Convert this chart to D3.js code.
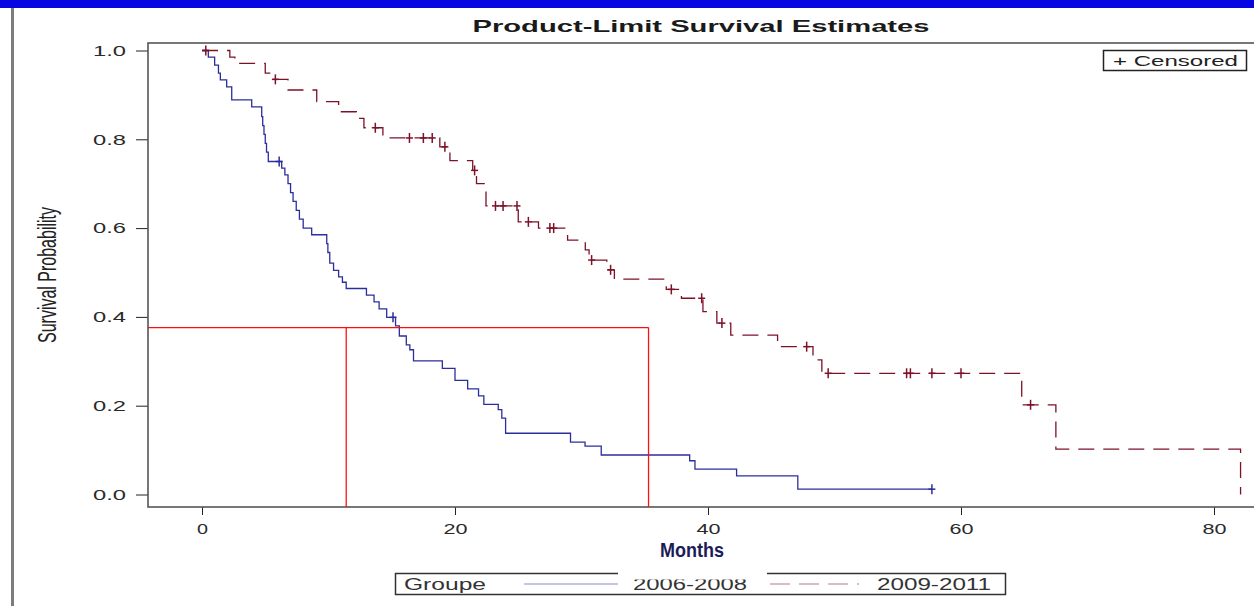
<!DOCTYPE html>
<html>
<head>
<meta charset="utf-8">
<script src="https://cdn.jsdelivr.net/npm/d3@7"></script>
<style>
    body { margin: 0; background: #fff; }
    svg { display: block; font-family: "Liberation Sans", Arial, sans-serif; }
</style>
</head>
<body>
<script>

// values (months, survival)
const blue_months = [0, 0.5, 1.0, 1.3, 1.45, 1.95, 2.35, 3.93, 4.72, 4.8, 4.9, 5.0, 5.1, 5.24, 6.3, 6.55, 6.8, 7.0, 7.2, 7.45,
    7.7, 8.0, 8.67, 9.86, 9.95, 10.1, 10.4, 10.8, 11.1, 11.4, 13.0, 13.6, 14.0, 14.6, 15.3, 15.6, 16.15, 16.43, 16.72, 19.0,
    20.0, 21.0, 21.86, 22.28, 23.42, 23.7, 24.0, 29.13, 30.28, 31.56, 38.55, 38.97, 42.26, 47.1, 57.7];
const blue_surv = [1.0, 0.985, 0.967, 0.949, 0.934, 0.918, 0.889, 0.873, 0.851, 0.831, 0.811, 0.791, 0.771, 0.750, 0.735, 0.720, 0.700, 0.680, 0.660, 0.640,
    0.620, 0.600, 0.585, 0.565, 0.545, 0.521, 0.505, 0.490, 0.478, 0.464, 0.449, 0.434, 0.418, 0.399, 0.380, 0.357, 0.337, 0.326, 0.301, 0.284,
    0.257, 0.238, 0.222, 0.203, 0.191, 0.172, 0.138, 0.118, 0.109, 0.089, 0.076, 0.057, 0.042, 0.012, 0.012];
const blue_censor_months = [6.1, 15.1, 57.7];

const red_months = [0, 2.2, 2.6, 5.0, 5.5, 6.8, 9.07, 10.8, 12.2, 12.8, 14.3, 18.8, 19.6, 21.4, 21.7, 22.45, 25.0, 26.6, 28.9, 30.3,
    30.6, 32.0, 32.6, 36.7, 37.9, 39.6, 40.7, 41.8, 45.5, 48.3, 49.0, 64.8, 67.5, 82.1];
const red_surv = [1.0, 0.985, 0.971, 0.949, 0.935, 0.911, 0.885, 0.862, 0.847, 0.826, 0.803, 0.783, 0.752, 0.730, 0.700, 0.650, 0.614, 0.600, 0.573, 0.551,
    0.528, 0.506, 0.485, 0.462, 0.442, 0.412, 0.386, 0.359, 0.333, 0.303, 0.273, 0.202, 0.102, 0.0];
const red_censor_months = [0.3, 5.8, 13.7, 16.4, 17.5, 18.2, 19.2, 21.55, 23.2, 23.8, 24.9, 25.8, 27.5, 27.8, 30.8, 32.3,
    37.1, 39.5, 41.1, 47.8, 49.5, 55.7, 56.0, 57.7, 60.0, 65.5];

// red guide lines drawn over the chart
const guide_surv = 0.376;
const guide_months = [11.4, 35.3];

const x_ticks = [0, 20, 40, 60, 80];
const y_ticks = [0, 0.2, 0.4, 0.6, 0.8, 1.0];
const group_labels = ["2006-2008", "2009-2011"];

// setup
const WIDTH = 1254;
const HEIGHT = 606;
const PLOT = {left: 148, top: 43, right: 1262, bottom: 507};
const BLUE = "#2b2f9c";
const RED = "#7d1128";
const DASH = "16,9";

const svg = d3.select("body")
    .append("svg")
    .attr("width", WIDTH)
    .attr("height", HEIGHT);

// slide decoration
svg.append("rect")
    .attr("x", 0).attr("y", 0)
    .attr("width", WIDTH).attr("height", 8)
    .attr("fill", "#0606e2");
svg.append("rect")
    .attr("x", 11).attr("y", 8)
    .attr("width", 3).attr("height", HEIGHT - 8)
    .attr("fill", "#7c7c7c");

// 0 -> 202px, 80 -> 1214px ; 0.0 -> 494.5px, 1.0 -> 50.5px
const x = d3.scaleLinear()
    .domain([(PLOT.left - 202) / 12.65, (PLOT.right - 202) / 12.65])
    .range([PLOT.left, PLOT.right]);
const y = d3.scaleLinear()
    .domain([(494.5 - PLOT.bottom) / 444, (494.5 - PLOT.top) / 444])
    .range([PLOT.bottom, PLOT.top]);

// title
svg.append("text")
    .attr("x", 701).attr("y", 32)
    .attr("text-anchor", "middle")
    .attr("font-size", 17)
    .attr("font-weight", "bold")
    .attr("fill", "#1a1a1a")
    .attr("textLength", 457)
    .attr("lengthAdjust", "spacingAndGlyphs")
    .text("Product-Limit Survival Estimates");

// axes
const y_axis = svg.append("g")
    .attr("transform", `translate(${PLOT.left},0)`)
    .call(d3.axisLeft(y).tickValues(y_ticks).tickFormat(d3.format(".1f")).tickSize(12).tickPadding(10));
y_axis.select(".domain").remove();
y_axis.selectAll("line").attr("stroke", "#222");
y_axis.attr("font-family", null).attr("font-size", 15);
y_axis.selectAll("text")
    .attr("fill", "#2a2a2a")
    .attr("textLength", 33)
    .attr("lengthAdjust", "spacingAndGlyphs");

const x_axis = svg.append("g")
    .attr("transform", `translate(0,${PLOT.bottom})`)
    .call(d3.axisBottom(x).tickValues(x_ticks).tickSize(8).tickPadding(8));
x_axis.select(".domain").remove();
x_axis.selectAll("line").attr("stroke", "#222");
x_axis.attr("font-family", null).attr("font-size", 15);
x_axis.selectAll("text")
    .attr("fill", "#2a2a2a")
    .attr("textLength", d => String(d).length === 1 ? 11 : 24)
    .attr("lengthAdjust", "spacingAndGlyphs");

// frame
svg.append("rect")
    .attr("x", PLOT.left).attr("y", PLOT.top)
    .attr("width", PLOT.right - PLOT.left).attr("height", PLOT.bottom - PLOT.top)
    .attr("fill", "none")
    .attr("stroke", "#555")
    .attr("stroke-width", 1.6);

// axis titles
svg.append("text")
    .attr("transform", "translate(56,275) rotate(-90)")
    .attr("text-anchor", "middle")
    .attr("font-size", 26)
    .attr("fill", "#222")
    .attr("textLength", 136)
    .attr("lengthAdjust", "spacingAndGlyphs")
    .text("Survival Probability");

svg.append("text")
    .attr("x", 692).attr("y", 557)
    .attr("text-anchor", "middle")
    .attr("font-size", 20)
    .attr("font-weight", "bold")
    .attr("fill", "#1c1c58")
    .attr("textLength", 64)
    .attr("lengthAdjust", "spacingAndGlyphs")
    .text("Months");

// survival curves
const step_line = d3.line()
    .x(d => x(d[0]))
    .y(d => y(d[1]))
    .curve(d3.curveStepAfter);

const curves = [
    {months: blue_months, surv: blue_surv, censor: blue_censor_months, color: BLUE, dash: null},
    {months: red_months, surv: red_surv, censor: red_censor_months, color: RED, dash: DASH}
];

const surv_at = (curve, t) => curve.surv[Math.max(0, d3.bisectRight(curve.months, t) - 1)];

curves.forEach(curve => {
    svg.append("path")
        .datum(d3.zip(curve.months, curve.surv))
        .attr("fill", "none")
        .attr("stroke", curve.color)
        .attr("stroke-width", 1.3)
        .attr("stroke-dasharray", curve.dash)
        .attr("d", step_line);

    const marks = svg.append("g")
        .selectAll("g.censor")
        .data(curve.censor)
        .enter()
        .append("g")
        .attr("class", "censor")
        .attr("transform", t => `translate(${x(t)},${y(surv_at(curve, t))})`)
        .attr("stroke", curve.color)
        .attr("stroke-width", 1.5);
    marks.append("line").attr("x1", 0).attr("x2", 0).attr("y1", -5).attr("y2", 5);
    marks.append("line").attr("x1", -3.5).attr("x2", 3.5).attr("y1", 0).attr("y2", 0);
});

// red guide lines
svg.append("line")
    .attr("x1", x(x.domain()[0])).attr("x2", x(d3.max(guide_months)))
    .attr("y1", y(guide_surv)).attr("y2", y(guide_surv))
    .attr("stroke", "#ff1010")
    .attr("stroke-width", 1.3);
svg.append("g")
    .selectAll("line")
    .data(guide_months)
    .enter()
    .append("line")
    .attr("x1", d => x(d)).attr("x2", d => x(d))
    .attr("y1", y(guide_surv)).attr("y2", y(y.domain()[0]))
    .attr("stroke", "#ff1010")
    .attr("stroke-width", 1.3);

// censored legend
const censored_box = svg.append("g");
censored_box.append("rect")
    .attr("x", 1103.5).attr("y", 50.5)
    .attr("width", 143).attr("height", 20)
    .attr("fill", "#fff")
    .attr("stroke", "#222")
    .attr("stroke-width", 1.5);
censored_box.append("text")
    .attr("x", 1113).attr("y", 66)
    .attr("font-size", 15)
    .attr("fill", "#222")
    .attr("textLength", 125)
    .attr("lengthAdjust", "spacingAndGlyphs")
    .text("+ Censored");

// group legend
const legend = svg.append("g");
legend.append("path")
    .attr("d", "M618,573.5 H395.5 V594.5 H1005.5 V573.5 H767")
    .attr("fill", "none")
    .attr("stroke", "#333")
    .attr("stroke-width", 1.5);
legend.append("text")
    .attr("x", 404).attr("y", 590)
    .attr("font-size", 16)
    .attr("fill", "#333")
    .attr("textLength", 82)
    .attr("lengthAdjust", "spacingAndGlyphs")
    .text("Groupe");

const legend_items = [
    {x1: 524, x2: 618, tx: 633, color: BLUE, dash: null},
    {x1: 770, x2: 859, tx: 877, color: RED, dash: "20,9"}
];
legend_items.forEach((item, i) => {
    legend.append("line")
        .attr("x1", item.x1).attr("x2", item.x2)
        .attr("y1", 584).attr("y2", 584)
        .attr("stroke", item.color)
        .attr("stroke-opacity", 0.55)
        .attr("stroke-width", 1.2)
        .attr("stroke-dasharray", item.dash);
    legend.append("text")
        .attr("x", item.tx).attr("y", 590)
        .attr("font-size", 16)
        .attr("fill", "#333")
        .attr("textLength", 114)
        .attr("lengthAdjust", "spacingAndGlyphs")
        .text(group_labels[i]);
});
// the first group label is cut off at the top in the original
legend.append("rect")
    .attr("x", 625).attr("y", 570)
    .attr("width", 136).attr("height", 9.5)
    .attr("fill", "#fff");

</script>
</body>
</html>
